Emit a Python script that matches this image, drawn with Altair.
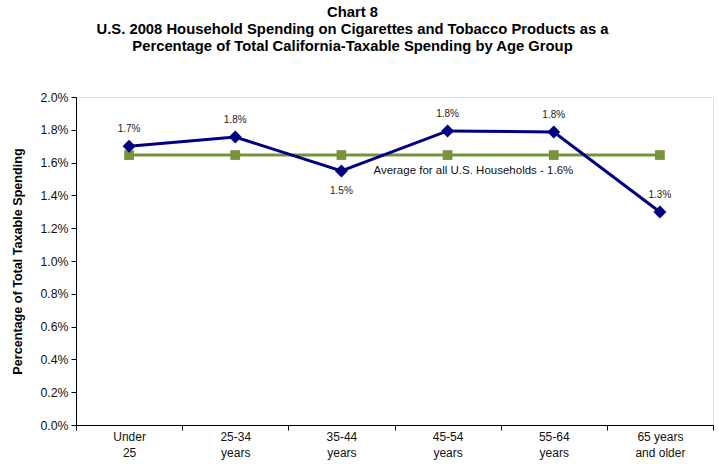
import altair as alt
import pandas as pd

categories = ["Under 25", "25-34 years", "35-44 years", "45-54 years", "55-64 years", "65 years and older"]
spending = [1.70, 1.756, 1.549, 1.793, 1.787, 1.299]
labels = ["1.7%", "1.8%", "1.5%", "1.8%", "1.8%", "1.3%"]
average = 1.646
average_label = "Average for all U.S. Households - 1.6%"
label_below = ["35-44 years"]

df = pd.DataFrame({"cat": categories, "val": spending, "lab": labels})
df["below"] = df["cat"].isin(label_below)
avg_df = pd.DataFrame({"cat": categories, "val": [average] * len(categories)})
avg_text = pd.DataFrame({"cat": ["35-44 years"], "val": [average], "t": [average_label]})

FONT = "Liberation Sans"
label_map = "{'Under 25':['Under','25'],'25-34 years':['25-34','years'],'35-44 years':['35-44','years'],'45-54 years':['45-54','years'],'55-64 years':['55-64','years'],'65 years and older':['65 years','and older']}[datum.label]"

x = alt.X("cat:N", sort=categories, title=None,
          scale=alt.Scale(paddingInner=0, paddingOuter=0),
          axis=alt.Axis(labelAngle=0, labelExpr=label_map, tickBand="extent",
                        labelFont=FONT, labelFontSize=12, labelColor="#111",
                        labelLineHeight=16, labelPadding=1, tickColor="#000",
                        domainColor="#000", tickSize=5, labelBaseline="top"))
y = alt.Y("val:Q", title="Percentage of Total Taxable Spending",
          scale=alt.Scale(domain=[0, 2.0]),
          axis=alt.Axis(values=[0, 0.2, 0.4, 0.6, 0.8, 1.0, 1.2, 1.4, 1.6, 1.8, 2.0],
                        labelExpr="format(datum.value, '.1f') + '%'",
                        grid=False, labelFont=FONT, labelFontSize=12.3, labelColor="#111",
                        tickColor="#000", domainColor="#000", tickSize=5, labelPadding=3,
                        titleFont=FONT, titleFontSize=12.6, titleFontWeight="bold",
                        titleColor="#000", titlePadding=15))

avg_line = alt.Chart(avg_df).mark_line(color="#77933C", strokeWidth=3).encode(x=x, y=y)
avg_pts = alt.Chart(avg_df).mark_square(color="#77933C", size=95, opacity=1).encode(x=x, y=y)
main_line = alt.Chart(df).mark_line(color="#000080", strokeWidth=3).encode(x=x, y=y)
main_pts = alt.Chart(df).mark_point(shape="diamond", filled=True, color="#000080",
                                     size=170, opacity=1).encode(x=x, y=y)
lab_above = alt.Chart(df).transform_filter("!datum.below").mark_text(
    font=FONT, fontSize=10, color="#222", dy=-17).encode(x=x, y=y, text="lab:N")
lab_below = alt.Chart(df).transform_filter("datum.below").mark_text(
    font=FONT, fontSize=10, color="#222", dy=20).encode(x=x, y=y, text="lab:N")
avg_lab = alt.Chart(avg_text).mark_text(font=FONT, fontSize=11.5, color="#111",
                                        align="left", dx=32, dy=16).encode(x=x, y=y, text="t:N")

chart = alt.layer(avg_line, avg_pts, main_line, main_pts, lab_above, lab_below, avg_lab).properties(
    width=637, height=328,
    autosize=alt.AutoSizeParams(type="none"),
    padding={"left": 76, "top": 97, "right": 6, "bottom": 39},
    title=alt.TitleParams(
        text=["Chart 8",
              "U.S. 2008 Household Spending on Cigarettes and Tobacco Products as a",
              "Percentage of Total California-Taxable Spending by Age Group"],
        font=FONT, fontSize=14.8, fontWeight="bold", color="#000",
        lineHeight=17, anchor="middle", offset=37, dx=-42),
).configure_view(stroke="#000", strokeWidth=1).configure(background="white")

chart.save("out.html", embed_options={"renderer": "svg", "actions": False})
